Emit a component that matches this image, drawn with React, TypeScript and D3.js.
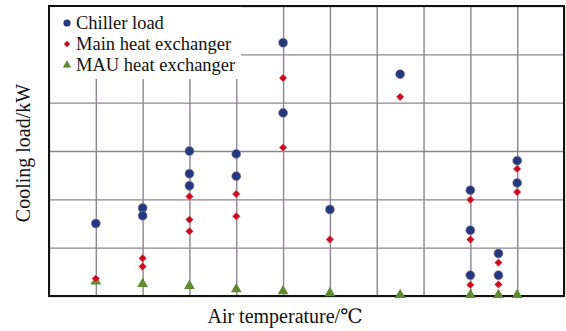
import { useRef, useEffect } from "react";
import * as d3 from "d3";

// x positions are in grid units (the original figure shows no tick numbers)
const chillerX = [1, 2, 2, 3, 3, 3, 4, 4, 5, 5, 6, 7.5, 9, 9, 9, 9.6, 9.6, 10, 10];
const chillerY = [1.5, 1.82, 1.66, 3.0, 2.53, 2.28, 2.94, 2.48, 5.24, 3.79, 1.79, 4.59, 2.19, 1.36, 0.43, 0.88, 0.43, 2.8, 2.34];

const mainX = [1, 2, 2, 3, 3, 3, 4, 4, 5, 5, 6, 7.5, 9, 9, 9, 9.6, 9.6, 10, 10];
const mainY = [0.36, 0.78, 0.61, 2.06, 1.58, 1.34, 2.11, 1.65, 4.51, 3.07, 1.17, 4.12, 1.99, 1.17, 0.23, 0.69, 0.24, 2.63, 2.15];

const mauX = [1, 2, 3, 4, 5, 6, 7.5, 9, 9.6, 10];
const mauY = [0.28, 0.23, 0.19, 0.12, 0.08, 0.04, 0.0, 0.0, 0.0, 0.0];

const legendLabels = ["Chiller load", "Main heat exchanger", "MAU heat exchanger"];

const FONT = "Liberation Serif, DejaVu Serif, Times New Roman, serif";

const App = () => {
  const svgRef = useRef<SVGSVGElement>(null);

  useEffect(() => {
    const svg = d3.select(svgRef.current);
    svg.selectAll("*").remove();

    const margin = { top: 6, right: 2, bottom: 35, left: 49 },
      width = 566,
      height = 331,
      innerW = width - margin.left - margin.right,
      innerH = height - margin.top - margin.bottom;

    const x = d3.scaleLinear().domain([0, 11]).range([margin.left, margin.left + innerW]);
    const y = d3.scaleLinear().domain([0, 6]).range([margin.top + innerH, margin.top]);

    const gridColor = "#8d868f";

    // grid
    svg
      .append("g")
      .attr("transform", "translate(0," + (margin.top + innerH) + ")")
      .call(d3.axisBottom(x).ticks(11).tickSize(-innerH).tickFormat(() => ""))
      .call((g) => g.select(".domain").remove())
      .call((g) => g.selectAll(".tick line").attr("stroke", gridColor).attr("stroke-width", 1.4));

    svg
      .append("g")
      .attr("transform", "translate(" + margin.left + ",0)")
      .call(d3.axisLeft(y).ticks(6).tickSize(-innerW).tickFormat(() => ""))
      .call((g) => g.select(".domain").remove())
      .call((g) => g.selectAll(".tick line").attr("stroke", gridColor).attr("stroke-width", 1.4));

    // legend background hides grid
    svg
      .append("rect")
      .attr("x", margin.left + 1)
      .attr("y", margin.top + 1)
      .attr("width", 191)
      .attr("height", 72)
      .attr("fill", "#fff");

    // frame
    svg
      .append("rect")
      .attr("x", margin.left)
      .attr("y", margin.top)
      .attr("width", innerW)
      .attr("height", innerH)
      .attr("fill", "none")
      .attr("stroke", "#111")
      .attr("stroke-width", 2);

    const diamond = d3.symbol().type(d3.symbolDiamond2).size(40);
    const triangle = d3.symbol().type(d3.symbolTriangle).size(50);

    const chiller = d3.zip(chillerX, chillerY);
    const main = d3.zip(mainX, mainY);
    const mau = d3.zip(mauX, mauY);

    svg
      .append("g")
      .selectAll("path")
      .data(mau)
      .join("path")
      .attr("d", triangle)
      .attr("transform", (d) => "translate(" + x(d[0]) + "," + (y(d[1]) - 1) + ")")
      .attr("fill", "#5e8b30");

    svg
      .append("g")
      .selectAll("path")
      .data(main)
      .join("path")
      .attr("d", diamond)
      .attr("transform", (d) => "translate(" + x(d[0]) + "," + y(d[1]) + ")")
      .attr("fill", "#cc0a1c")
      .attr("stroke", "#e8a0a8")
      .attr("stroke-width", 0.5);

    svg
      .append("g")
      .selectAll("circle")
      .data(chiller)
      .join("circle")
      .attr("cx", (d) => x(d[0]))
      .attr("cy", (d) => y(d[1]))
      .attr("r", 4.5)
      .attr("fill", "#23397f")
      .attr("stroke", "#9c7c98")
      .attr("stroke-width", 0.6);

    // legend
    const legend = svg.append("g").attr("transform", "translate(67,23)");
    const rowH = 21;
    legend.append("circle").attr("cx", 0).attr("cy", 0).attr("r", 3.6).attr("fill", "#23397f");
    legend
      .append("path")
      .attr("d", d3.symbol().type(d3.symbolDiamond2).size(26)())
      .attr("transform", "translate(0," + rowH + ")")
      .attr("fill", "#cc0a1c");
    legend
      .append("path")
      .attr("d", d3.symbol().type(d3.symbolTriangle).size(30)())
      .attr("transform", "translate(0," + rowH * 2 + ")")
      .attr("fill", "#5e8b30");
    legend
      .selectAll("text")
      .data(legendLabels)
      .join("text")
      .attr("x", 9)
      .attr("y", (d, i) => i * rowH)
      .attr("dy", "0.35em")
      .style("font-family", FONT)
      .style("font-size", "18.5px")
      .attr("fill", "#111")
      .text((d) => d);

    // axis titles
    svg
      .append("text")
      .attr("x", 285)
      .attr("y", 323)
      .attr("text-anchor", "middle")
      .style("font-family", FONT)
      .style("font-size", "20px")
      .attr("fill", "#111")
      .text("Air temperature/\u2103");

    svg
      .append("text")
      .attr("transform", "translate(30,153) rotate(-90)")
      .attr("text-anchor", "middle")
      .style("font-family", FONT)
      .style("font-size", "20px")
      .attr("fill", "#111")
      .text("Cooling load/kW");
  }, []);

  return (
    <svg
      ref={svgRef}
      width={566}
      height={331}
      style={{ position: "absolute", left: 0, top: 0, background: "#fff" }}
    ></svg>
  );
};

export default App;
